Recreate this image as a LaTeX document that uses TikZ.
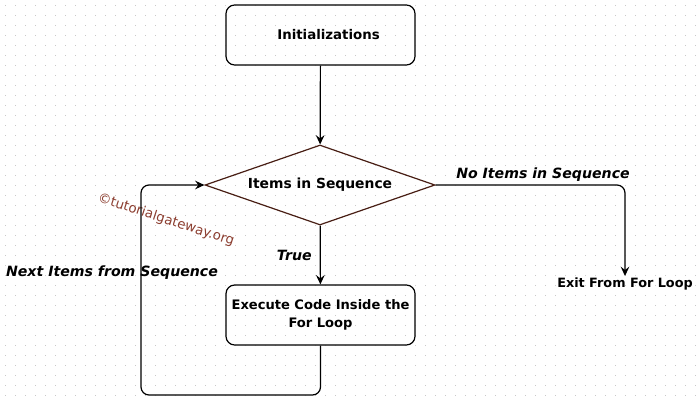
\documentclass[tikz,border=0pt]{standalone}
\usepackage{fontspec}
\setmainfont{DejaVu Sans}
\usetikzlibrary{shapes.geometric,arrows.meta}
\definecolor{edgebrown}{RGB}{72,30,20}
\definecolor{markbrown}{RGB}{140,62,48}
\definecolor{dotgray}{RGB}{200,200,200}
\tikzset{
  box/.style={draw, rounded corners=6.5pt, line width=0.9pt, minimum width=141.75pt, minimum height=45pt, align=center, font=\fontsize{9.8}{13}\selectfont\bfseries},
  test/.style={draw=edgebrown, diamond, aspect=2.875, inner sep=0pt, line width=0.9pt, minimum width=172.5pt, minimum height=60pt, font=\fontsize{10.4}{12}\selectfont\bfseries},
  arr/.style={-{Stealth[length=7pt,width=6.5pt,inset=2.5pt]}, line width=0.9pt, rounded corners=6pt},
  lbl/.style={font=\fontsize{10.6}{12}\selectfont\bfseries\itshape, inner sep=0pt}
}
\begin{document}
\begin{tikzpicture}[x=0.75pt, y=-0.75pt]
  \useasboundingbox[fill=white] (0,0) rectangle (699,403);
  % dotted background
  \foreach \i in {0,...,69} {
    \foreach \j in {0,...,39} {
      \fill[dotgray] (5+10*\i,5+10*\j) rectangle ++(1.2,1.2);
    }
  }
  \node[box, font=\fontsize{10}{13}\selectfont\bfseries] (init) at (320.5,35) {\hspace{12pt}Initializations};
  \node[test] (cond) at (320,185) {Items in Sequence};
  \node[box] (body) at (320.5,315) {Execute Code Inside the\\For Loop};
  \node[font=\fontsize{9.6}{12}\selectfont\bfseries, inner sep=1pt, anchor=north] (exit) at (625,276) {Exit From For Loop};
  \coordinate (back) at (141,395);
  \node[text=markbrown, rotate=-18, font=\fontsize{10}{12}\selectfont] (mark) at (166,220) {©tutorialgateway.org};

  \draw[arr] (init) -- (cond);
  \draw[arr] (cond) -- (body) node[lbl, pos=0.5, left=6pt] {True};
  \draw[arr] (body.south) |- (back) |- (cond.west);
  \draw[arr] (cond.east) -| (exit.north);
  \node[lbl] (nolbl) at (543,175) {No Items in Sequence};
  \node[lbl] (nextlbl) at (112,273) {Next Items from Sequence};
\end{tikzpicture}
\end{document}
